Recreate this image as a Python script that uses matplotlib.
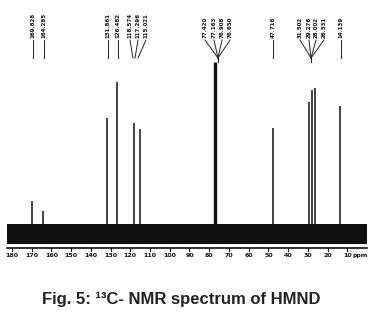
import matplotlib
matplotlib.use("Agg")
import matplotlib.pyplot as plt

# ---- data ----
peak_ppm = [169.8, 164.3, 131.9, 126.5, 118.1, 115.0, 76.9, 47.7, 29.2, 28.0, 26.5, 13.5]
peak_height = [47, 37, 130, 166, 125, 119, 186, 120, 146, 158, 160, 142]
peak_labels = ["169.828", "164.285", "131.861", "126.482", "118.574",
               "117.296", "115.021", "77.420", "77.163", "76.908", "76.650",
               "47.716", "31.502", "29.276", "28.002", "26.531", "14.139"]
tick_values = [180, 170, 160, 150, 140, 130, 120, 110, 100, 90, 80, 70, 60, 50, 40, 30, 20, 10]
caption = "Fig. 5: \u00b9\u00b3C- NMR spectrum of HMND"

# ---- layout ----
W, H = 384, 320
fig = plt.figure(figsize=(W / 100, H / 100), dpi=100)
fig.patch.set_facecolor("white")
ax_bottom_px, ax_top_px = 248, 10
ax = fig.add_axes([7 / W, (H - ax_bottom_px) / H, 360 / W, (ax_bottom_px - ax_top_px) / H])
ax.set_xlim(182.5, 0)
ax.set_ylim(0, ax_bottom_px - ax_top_px)
ax.axis("off")

def px2ppm(x):
    return 182.5 - (x - 7) / 360 * 182.5

def py(y):
    return ax_bottom_px - y

# noise band
ax.fill_between([182.5, 0], [py(244)] * 2, [py(224)] * 2, color="#111111", lw=0)

# peaks
base = py(234)
for p, h in zip(peak_ppm, peak_height):
    lw = 2.4 if abs(p - 76.9) < 1 else 1.1
    ax.vlines(p, base, h, color="#111111", lw=lw)

# axis line + ticks
ax.plot([182.5, 0], [py(248), py(248)], color="#111111", lw=1.2, clip_on=False)
for t in tick_values:
    ax.plot([t, t], [py(248), py(251)], color="#111111", lw=0.8, clip_on=False)
    ax.text(t, py(253), str(t), ha="center", va="top", fontsize=4.5,
            fontweight="bold", color="#111111", clip_on=False)
ax.text(px2ppm(360), py(253), "ppm", ha="center", va="top", fontsize=4.5,
        fontweight="bold", color="#111111", clip_on=False)

# peak labels (x pixel positions of label columns and leader end points)
label_px = [33, 44, 108, 118, 130, 138, 146, 205, 214, 222, 230, 273, 300, 309, 316, 324, 341]
leader_end_px = [33, 44, 108, 118, 133, 135, 138, 218, 218, 218, 218, 273, 311, 311, 311, 311, 341]
for lab, lx, ex in zip(peak_labels, label_px, leader_end_px):
    x = px2ppm(lx)
    ax.text(x, py(38), lab, rotation=90, ha="center", va="bottom", fontsize=4.0,
            fontweight="bold", color="#111111", family="DejaVu Sans")
    ax.plot([x, px2ppm(ex)], [py(40), py(58)], color="#222222", lw=0.7)
for cx in [218, 311]:
    ax.plot([px2ppm(cx)] * 2, [py(58), py(62)], color="#222222", lw=0.8)

fig.text(181 / W, 1 - 299 / H, caption, ha="center", va="center", fontsize=12,
         fontweight="bold", color="#222222", family="Liberation Sans")

fig.savefig("out.png", dpi=100, facecolor="white")
